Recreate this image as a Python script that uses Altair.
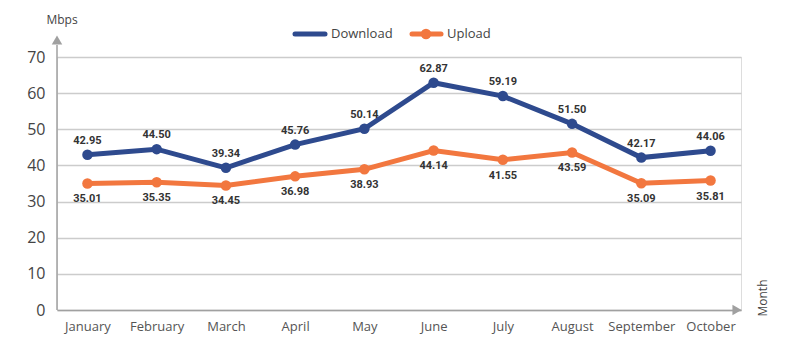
import altair as alt
import pandas as pd

months = ["January", "February", "March", "April", "May", "June", "July",
          "August", "September", "October"]
download = [42.95, 44.50, 39.34, 45.76, 50.14, 62.87, 59.19, 51.50, 42.17, 44.06]
upload = [35.01, 35.35, 34.45, 36.98, 38.93, 44.14, 41.55, 43.59, 35.09, 35.81]
y_ticks = [0, 10, 20, 30, 40, 50, 60, 70]

BLUE = "#2e4a8e"
ORANGE = "#f2773f"
W, H = 684, 253

df = pd.DataFrame({
    "Month": months * 2,
    "Mbps": download + upload,
    "Series": ["Download"] * len(months) + ["Upload"] * len(months),
    "Label": [f"{v:.2f}" for v in download + upload],
})

x = alt.X("Month:N", sort=months, scale=alt.Scale(type="point", padding=0.44),
          axis=alt.Axis(title=None, labelFont="Open Sans", labelFontSize=13,
                        labelColor="#555555", labelPadding=10, labelAngle=0,
                        ticks=False, domain=True, domainColor="#a0a0a0",
                        domainWidth=1.5, grid=False))
y = alt.Y("Mbps:Q", scale=alt.Scale(domain=[0, 70], nice=False),
          axis=alt.Axis(title=None, values=y_ticks, labelFont="Open Sans",
                        labelFontSize=16, labelColor="#444444", labelPadding=12,
                        ticks=False, domain=False, grid=True,
                        gridColor="#cccccc", gridWidth=1.5))
color = alt.Color("Series:N", scale=alt.Scale(domain=["Download", "Upload"],
                                              range=[BLUE, ORANGE]), legend=None)

base = alt.Chart(df)
lines = base.mark_line(strokeWidth=5).encode(x=x, y=y, color=color)
points = base.mark_point(filled=True, size=110, opacity=1).encode(x=x, y=y, color=color)
lab_dl = base.transform_filter(alt.datum.Series == "Download").mark_text(
    font="Roboto", fontWeight="bold", fontSize=11, color="#333333", dy=-14
).encode(x=x, y=y, text="Label:N")
lab_ul = base.transform_filter(alt.datum.Series == "Upload").mark_text(
    font="Roboto", fontWeight="bold", fontSize=11, color="#333333", dy=16
).encode(x=x, y=y, text="Label:N")

# axis decorations
yline = alt.Chart(pd.DataFrame({"a": [0]})).mark_rule(color="#a0a0a0", strokeWidth=1.5).encode(
    x=alt.value(0), y=alt.value(-12), y2=alt.value(H))
yarrow = alt.Chart(pd.DataFrame({"a": [0]})).mark_point(
    shape="triangle-up", filled=True, color="#a0a0a0", size=110, opacity=1).encode(
    x=alt.value(0), y=alt.value(-17))
xarrow = alt.Chart(pd.DataFrame({"a": [0]})).mark_point(
    shape="triangle-right", filled=True, color="#a0a0a0", size=110, opacity=1).encode(
    x=alt.value(W - 4), y=alt.value(H))
ytitle = alt.Chart(pd.DataFrame({"t": ["Mbps"]})).mark_text(
    font="Open Sans", fontSize=12, color="#444444", align="center").encode(
    x=alt.value(5), y=alt.value(-37), text="t:N")
xtitle = alt.Chart(pd.DataFrame({"t": ["Month"]})).mark_text(
    font="Open Sans", fontSize=12, color="#444444", angle=270, align="center").encode(
    x=alt.value(W + 22), y=alt.value(H - 12), text="t:N")

# legend
leg_dl_line = alt.Chart(pd.DataFrame({"a": [0]})).mark_rule(
    color=BLUE, strokeWidth=5, strokeCap="round").encode(
    x=alt.value(238), x2=alt.value(268), y=alt.value(-23))
leg_dl_text = alt.Chart(pd.DataFrame({"t": ["Download"]})).mark_text(
    font="Open Sans", fontSize=13, color="#444444", align="left").encode(
    x=alt.value(274), y=alt.value(-23), text="t:N")
leg_ul_line = alt.Chart(pd.DataFrame({"a": [0]})).mark_rule(
    color=ORANGE, strokeWidth=5, strokeCap="round").encode(
    x=alt.value(355), x2=alt.value(384), y=alt.value(-23))
leg_ul_pt = alt.Chart(pd.DataFrame({"a": [0]})).mark_point(
    filled=True, color=ORANGE, size=110, opacity=1).encode(
    x=alt.value(369), y=alt.value(-23))
leg_ul_text = alt.Chart(pd.DataFrame({"t": ["Upload"]})).mark_text(
    font="Open Sans", fontSize=13, color="#444444", align="left").encode(
    x=alt.value(390), y=alt.value(-23), text="t:N")

chart = alt.layer(
    yline, lines, points, lab_dl, lab_ul, yarrow, xarrow, ytitle, xtitle,
    leg_dl_line, leg_dl_text, leg_ul_line, leg_ul_pt, leg_ul_text
).properties(
    width=W, height=H,
    autosize=alt.AutoSizeParams(type="none"),
    padding={"left": 49, "top": 49, "right": 40, "bottom": 40},
).configure_view(stroke=None).configure(background="white")

chart.save("out.html", embed_options={"renderer": "svg", "actions": False})
